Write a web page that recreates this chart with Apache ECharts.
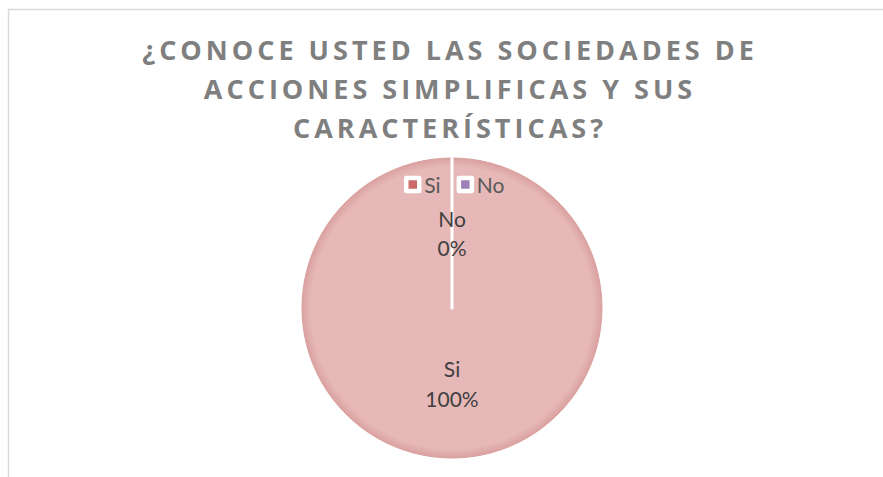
<!DOCTYPE html>
<html>
<head>
<meta charset="utf-8">
<script src="https://cdn.jsdelivr.net/npm/echarts@6/dist/echarts.min.js"></script>
<style>
    html, body { margin: 0; padding: 0; background: #fff; }
    #chart { width: 883px; height: 477px; }
    /* title letter spacing (svg renderer, title is the only Open Sans text) */
    #chart text[style*="Open Sans"] { letter-spacing: 4px; }
</style>
</head>
<body>
<div id="chart"></div>
<script>
const titleLines = ['¿CONOCE USTED LAS SOCIEDADES DE', 'ACCIONES SIMPLIFICAS Y SUS', 'CARACTERÍSTICAS?'];
const categories = ['Si', 'No'];
const values = [100, 0];
const sliceColors = ['#E6B9B8', '#9E80B8'];
const legendColors = ['#CC6B68', '#9E80B8'];

const chartObj = echarts.init(document.getElementById('chart'), null, { renderer: 'svg' });

const pieData = categories.map((name, i) => ({
    name: name,
    value: values[i],
    itemStyle: i === 0 ? {
        color: new echarts.graphic.RadialGradient(0.5, 0.5, 0.5, [
            { offset: 0, color: '#E6B9B8' },
            { offset: 0.94, color: '#E6B8B7' },
            { offset: 1, color: '#D9A2A1' }
        ]),
        borderColor: '#DAA09E',
        borderWidth: 1
    } : {
        color: sliceColors[i],
        borderColor: '#ffffff',
        borderWidth: 3
    }
}));

const labelFont = { fontFamily: 'Lato', fontSize: 21, color: '#404040' };

const option = {
    animation: false,
    title: {
        text: titleLines.join('\n'),
        left: 445,
        top: 25,
        textAlign: 'center',
        textStyle: {
            fontFamily: 'Open Sans',
            fontSize: 27,
            fontWeight: 'bold',
            color: '#7F7F7F',
            lineHeight: 39
        }
    },
    legend: {
        left: 399,
        top: 169,
        itemWidth: 13,
        itemHeight: 13,
        itemGap: 16,
        icon: 'rect',
        textStyle: {
            fontFamily: 'Lato',
            fontSize: 21,
            color: '#595959'
        },
        data: categories.map((name, i) => ({
            name: name,
            itemStyle: { color: legendColors[i], borderColor: '#ffffff', borderWidth: 4.5 }
        }))
    },
    graphic: [{
        type: 'rect',
        shape: { x: 8.5, y: 9.5, width: 1000, height: 1000 },
        style: { fill: 'none', stroke: '#D9D9D9', lineWidth: 1.5 },
        silent: true
    }],
    series: [{
        type: 'pie',
        center: [452, 308],
        radius: 150,
        startAngle: 90,
        clockwise: true,
        minAngle: 0,
        avoidLabelOverlap: false,
        data: pieData,
        label: {
            show: true,
            position: 'inside',
            // uneven line heights nudge the labels toward the centre, like the original
            formatter: p => p.dataIndex === 0
                ? '{s1|' + p.name + '}\n{s2|' + p.percent + '%}'
                : '{n1|' + p.name + '}\n{n2|' + p.percent + '%}',
            ...labelFont,
            lineHeight: 30,
            rich: {
                s1: { ...labelFont, lineHeight: 25 },
                s2: { ...labelFont, lineHeight: 35 },
                n1: { ...labelFont, lineHeight: 35 },
                n2: { ...labelFont, lineHeight: 23 }
            }
        },
        labelLine: { show: false },
        emphasis: { disabled: true }
    }]
};
chartObj.setOption(option);
</script>
</body>
</html>
